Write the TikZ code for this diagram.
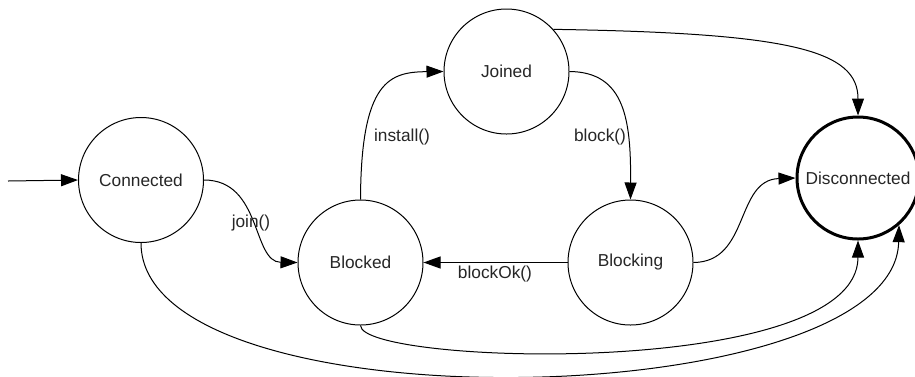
\documentclass[tikz,border=0pt]{standalone}
\usepackage{fontspec}
\setmainfont{Liberation Sans}
\usetikzlibrary{arrows.meta}
\begin{document}
\begin{tikzpicture}[x=1pt,y=-1pt,
  state/.style={circle,draw=black,line width=1pt,minimum size=125pt,inner sep=0pt,
    font=\fontsize{17.3}{20}\selectfont,text=black!85},
  final/.style={state,line width=3pt,minimum size=122pt},
  edge/.style={draw=black,line width=1pt,-{Triangle[length=17pt,width=12pt]}},
  lbl/.style={inner sep=0pt,font=\fontsize{17.3}{20}\selectfont,text=black!85}]
\useasboundingbox (0,0) rectangle (915,376);

% states
\node[state] (Connected)    at (141,180) {Connected};
\node[state] (Blocked)      at (360.5,262.5) {Blocked};
\node[state] (Joined)       at (506.5,71.5) {Joined};
\node[state] (Blocking)     at (630.5,262.5) {Blocking};
\node[final] (Disconnected) at (858,178) {Disconnected};
\coordinate (start) at (8,181);

% transitions
\draw[edge] (start) -- (Connected.west);
\draw[edge] (Connected.east) .. controls (262,180) and (252,262) .. (Blocked.west);
\node[lbl] (joinlbl) at (251,223) {join()};

\draw[edge] (Blocked.north) .. controls (361,80) and (390,72) .. (Joined.west);
\node[lbl] (installlbl) at (402,137) {install()};

\draw[edge] (Joined.east) .. controls (625,72) and (631,120) .. (Blocking.north);
\node[lbl] (blocklbl) at (600,137) {block()};

\draw[edge] (Blocking.west) -- (Blocked.east);
\node[lbl] (blockoklbl) at (495,274) {blockOk()};

\draw[edge] (Joined.42) .. controls (790,33) and (858,50) .. (Disconnected.north);
\draw[edge] (Blocking.east) .. controls (750,262) and (735,180) .. (Disconnected.west);
\draw[edge] (Blocked.south) .. controls (361,365) and (858,380) .. (Disconnected.south);
\draw[edge] (Connected.south) .. controls (141,430) and (895,415) .. (Disconnected.-49);
\end{tikzpicture}
\end{document}
